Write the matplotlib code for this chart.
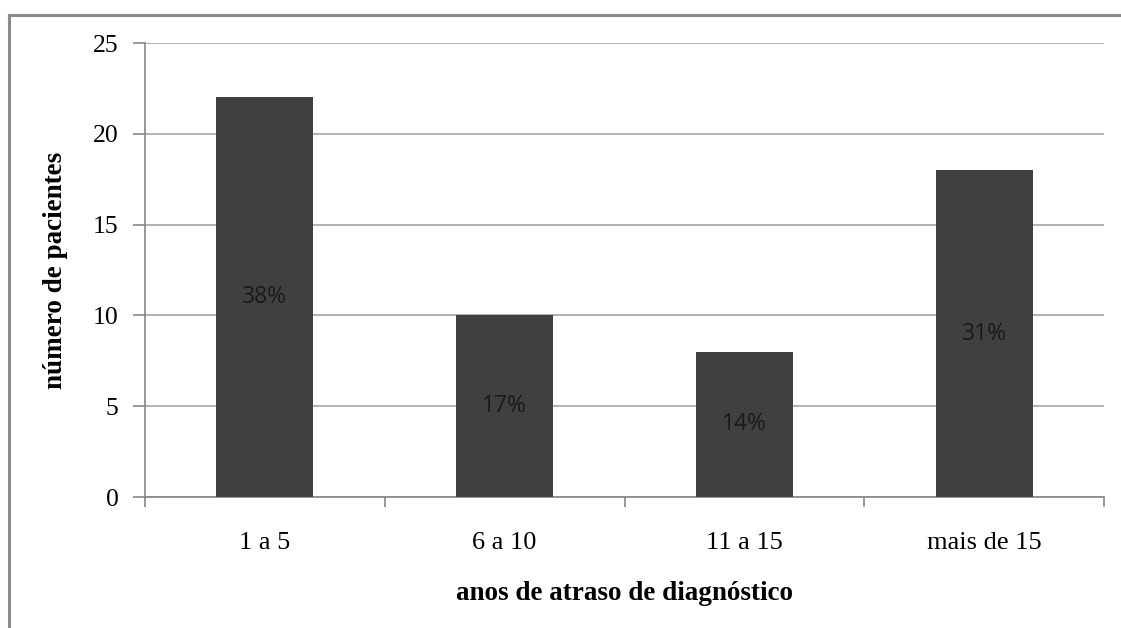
import matplotlib
matplotlib.use("Agg")
import matplotlib.pyplot as plt
from matplotlib.lines import Line2D

categories = ["1 a 5", "6 a 10", "11 a 15", "mais de 15"]
values = [22, 10, 8, 18]
pct_labels = ["38%", "17%", "14%", "31%"]
yticks = [0, 5, 10, 15, 20, 25]

W, H = 1121, 628
fig = plt.figure(figsize=(W / 100, H / 100), dpi=100)
fig.patch.set_facecolor("white")

# outer frame (cropped chart-area border)
fx, fy = 9 / W, 1 - 15 / H
fig.add_artist(Line2D([fx, fx], [-0.05, fy], transform=fig.transFigure,
                      color="#8a8a8a", linewidth=2.2, solid_capstyle="projecting"))
fig.add_artist(Line2D([fx, 1.05], [fy, fy], transform=fig.transFigure,
                      color="#8a8a8a", linewidth=2.2, solid_capstyle="projecting"))

ax = fig.add_axes([145 / W, 1 - 497 / H, (1104 - 145) / W, (497 - 43) / H])
x = list(range(len(categories)))
ax.bar(x, values, width=0.405, color="#404040", zorder=3)
ax.set_xlim(-0.5, len(categories) - 0.5)
ax.set_ylim(0, 25)

ax.set_yticks(yticks)
ax.yaxis.grid(True, color="#a6a6a6", linewidth=1.2, zorder=0)
ax.set_axisbelow(True)

serif = ["Liberation Serif", "DejaVu Serif"]
ax.set_yticklabels([str(t) for t in yticks], fontfamily=serif, fontsize=18.5)
ax.set_xticks(x)
ax.set_xticklabels(categories, fontfamily=serif, fontsize=19)
ax.set_xticks([i - 0.5 for i in range(len(categories) + 1)], minor=True)
ax.tick_params(axis="x", which="major", length=0, pad=25)
ax.tick_params(axis="x", which="minor", length=7, color="#868686", width=1.2, direction="out")
ax.tick_params(axis="y", length=9, color="#868686", width=1.2, direction="out", pad=10)

for s in ["top", "right"]:
    ax.spines[s].set_visible(False)
for s in ["left", "bottom"]:
    ax.spines[s].set_color("#868686")
    ax.spines[s].set_linewidth(1.2)

for xi, v, lab in zip(x, values, pct_labels):
    ax.text(xi, v / 2, lab, ha="center", va="center", fontsize=16.5,
            fontfamily=["Open Sans", "DejaVu Sans"], color="#1a1a1a", zorder=4)

ax.set_xlabel("anos de atraso de diagnóstico", fontfamily=serif, fontsize=19.5,
              fontweight="bold", labelpad=20)
ax.set_ylabel("número de pacientes", fontfamily=serif, fontsize=19.5,
              fontweight="bold", labelpad=18)

fig.savefig("out.png", dpi=100, facecolor="white")
